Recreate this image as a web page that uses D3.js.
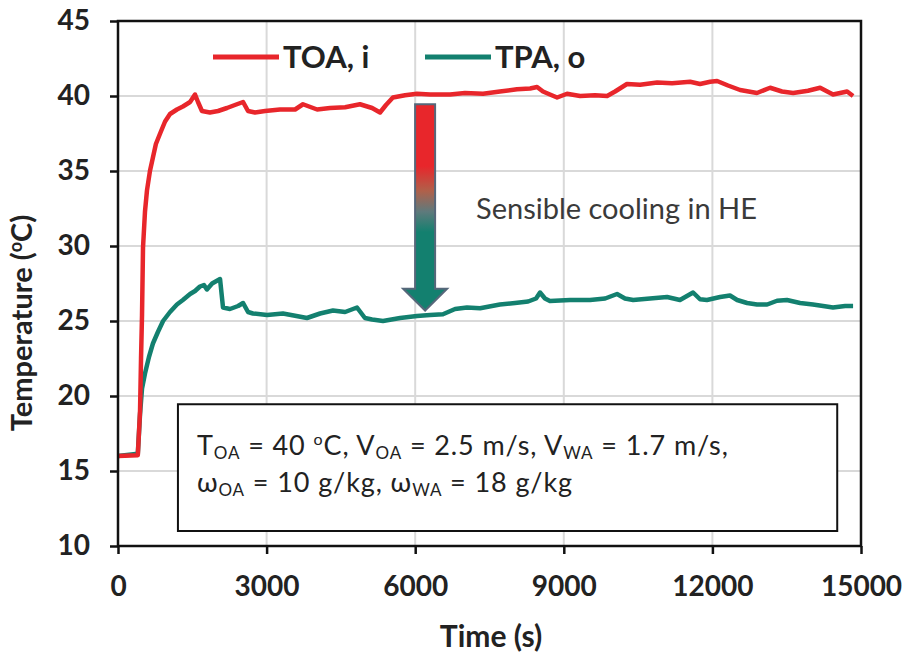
<!DOCTYPE html>
<html>
<head>
<meta charset="utf-8">
<script src="https://cdn.jsdelivr.net/npm/d3@7"></script>
<style>
  body { margin: 0; background: #fff; }
  svg { display: block; }
</style>
</head>
<body>
<div id="chart"></div>
<script>
// time (s) and temperature (oC)
var toaTime = [0, 400, 445, 465, 485, 505, 545, 585, 645, 705, 765, 850, 950, 1050, 1190, 1310, 1455, 1555, 1615, 1695, 1855, 2020, 2200, 2360, 2525, 2625, 2765, 2970, 3270, 3575, 3735, 4020, 4280, 4585, 4885, 5130, 5290, 5410, 5550, 5795, 6035, 6300, 6705, 7005, 7370, 7710, 8055, 8320, 8460, 8580, 8720, 8865, 9065, 9330, 9630, 9875, 10035, 10275, 10540, 10885, 11185, 11550, 11750, 11955, 12095, 12315, 12560, 12900, 13165, 13405, 13630, 13930, 14175, 14435, 14720, 14840];
var toaTemp = [16.0, 16.05, 19.0, 22.5, 25.4, 29.9, 32.3, 33.7, 35.0, 35.9, 36.8, 37.5, 38.3, 38.8, 39.1, 39.3, 39.6, 40.1, 39.6, 39.0, 38.9, 39.0, 39.2, 39.4, 39.6, 39.0, 38.9, 39.0, 39.1, 39.1, 39.45, 39.1, 39.2, 39.25, 39.45, 39.2, 38.9, 39.4, 39.9, 40.05, 40.15, 40.1, 40.1, 40.2, 40.15, 40.3, 40.45, 40.5, 40.6, 40.3, 40.1, 39.9, 40.15, 40.0, 40.05, 40.0, 40.3, 40.8, 40.75, 40.9, 40.85, 40.95, 40.8, 40.95, 41.0, 40.7, 40.4, 40.2, 40.55, 40.3, 40.2, 40.35, 40.55, 40.1, 40.3, 40.0];

var tpaTime = [0, 400, 445, 485, 545, 625, 705, 810, 910, 1050, 1190, 1310, 1455, 1555, 1655, 1735, 1795, 1900, 2060, 2120, 2260, 2425, 2525, 2625, 2725, 3010, 3330, 3575, 3815, 4080, 4340, 4585, 4825, 4985, 5130, 5350, 5695, 6035, 6300, 6560, 6805, 7045, 7310, 7710, 8015, 8280, 8440, 8520, 8620, 8720, 9125, 9530, 9835, 10075, 10235, 10400, 10740, 11085, 11345, 11610, 11750, 11890, 12155, 12355, 12500, 12700, 12900, 13105, 13305, 13505, 13770, 14030, 14235, 14435, 14680, 14840];
var tpaTemp = [16.0, 16.15, 18.8, 20.5, 21.5, 22.6, 23.5, 24.3, 25.0, 25.6, 26.1, 26.4, 26.8, 27.0, 27.3, 27.4, 27.1, 27.5, 27.8, 25.9, 25.8, 26.0, 26.2, 25.6, 25.5, 25.4, 25.5, 25.35, 25.2, 25.5, 25.7, 25.6, 25.9, 25.2, 25.1, 25.0, 25.2, 25.33, 25.4, 25.45, 25.8, 25.9, 25.85, 26.1, 26.2, 26.3, 26.5, 26.9, 26.5, 26.33, 26.4, 26.4, 26.5, 26.8, 26.5, 26.4, 26.5, 26.6, 26.4, 26.9, 26.45, 26.4, 26.6, 26.7, 26.4, 26.2, 26.1, 26.1, 26.35, 26.4, 26.2, 26.1, 26.0, 25.9, 26.0, 26.0];

var xTicks = [0, 3000, 6000, 9000, 12000, 15000];
var yTicks = [10, 15, 20, 25, 30, 35, 40, 45];
var seriesNames = ["TOA, i", "TPA, o"];
var seriesColors = ["#e8262b", "#13806f"];

var width = 906, height = 657;
var margin = {top: 21, right: 45, bottom: 111, left: 118};
var font = "Lato, 'Open Sans', sans-serif";

var svg = d3.select("#chart").append("svg")
  .attr("xmlns", "http://www.w3.org/2000/svg")
  .attr("width", width)
  .attr("height", height);

var x = d3.scaleLinear().domain([0, 15000]).range([margin.left, width - margin.right]);
var y = d3.scaleLinear().domain([10, 45]).range([height - margin.bottom, margin.top]);

// grid
svg.append("g").selectAll("line").data(yTicks.slice(1, -1)).enter().append("line")
  .attr("x1", x(0)).attr("x2", x(15000))
  .attr("y1", function(d) { return y(d); }).attr("y2", function(d) { return y(d); })
  .attr("stroke", "#d9d9d9").attr("stroke-width", 2);
svg.append("g").selectAll("line").data(xTicks.slice(1, -1)).enter().append("line")
  .attr("y1", y(10)).attr("y2", y(45))
  .attr("x1", function(d) { return x(d); }).attr("x2", function(d) { return x(d); })
  .attr("stroke", "#d9d9d9").attr("stroke-width", 2);

// annotation box (sits under the lines)
var box = svg.append("g");
box.append("rect")
  .attr("x", x(1210)).attr("y", y(19.45))
  .attr("width", x(14520) - x(1210)).attr("height", y(11.0) - y(19.45))
  .attr("fill", "#fff").attr("stroke", "#111").attr("stroke-width", 2);

// part kinds: 0 normal, 1 subscript, 2 superscript
var line1 = [["T", 0], ["OA", 1], [" = 40 ", 0], ["o", 2], ["C, V", 0], ["OA", 1], [" = 2.5 m/s, V", 0], ["WA", 1], [" = 1.7 m/s,", 0]];
var line2 = [["\u03c9", 0], ["OA", 1], [" = 10 g/kg, \u03c9", 0], ["WA", 1], [" = 18 g/kg", 0]];
var shift = [0, 4, -10];

function addLine(parts, ty) {
  var t = box.append("text")
    .attr("font-family", font).attr("font-size", 27).attr("fill", "#222")
    .attr("letter-spacing", 0.9)
    .attr("x", x(1210) + 19).attr("y", ty);
  parts.forEach(function(p, i) {
    var prev = i > 0 ? parts[i - 1][1] : 0;
    var dy = shift[p[1]] - shift[prev];
    var s = t.append("tspan").text(p[0]);
    if (dy) s.attr("dy", dy);
    if (p[1] === 1) s.attr("font-size", 17);
    if (p[1] === 2) s.attr("font-size", 16);
  });
}
addLine(line1, 455);
addLine(line2, 492);

// series
var line = d3.line()
  .x(function(d) { return x(d[0]); })
  .y(function(d) { return y(d[1]); });

var toa = d3.zip(toaTime, toaTemp);
var tpa = d3.zip(tpaTime, tpaTemp);

svg.append("path")
  .attr("d", line(tpa))
  .attr("fill", "none")
  .attr("stroke", seriesColors[1])
  .attr("stroke-width", 4.5)
  .attr("stroke-linejoin", "round");
svg.append("path")
  .attr("d", line(toa))
  .attr("fill", "none")
  .attr("stroke", seriesColors[0])
  .attr("stroke-width", 4.5)
  .attr("stroke-linejoin", "round");

// gradient arrow
var defs = svg.append("defs");
var grad = defs.append("linearGradient").attr("id", "arrowGrad")
  .attr("x1", 0).attr("y1", 0).attr("x2", 0).attr("y2", 1);
grad.append("stop").attr("offset", "0%").attr("stop-color", "#e8262b");
grad.append("stop").attr("offset", "30%").attr("stop-color", "#e8262b");
grad.append("stop").attr("offset", "42%").attr("stop-color", "#b0604a");
grad.append("stop").attr("offset", "52%").attr("stop-color", "#5f7a7c");
grad.append("stop").attr("offset", "62%").attr("stop-color", "#13806f");
grad.append("stop").attr("offset", "100%").attr("stop-color", "#13806f");

var ax = x(6200), half = 10, headHalf = 22;
var aTop = y(39.45), aHead = y(27.15), aTip = y(25.7);
svg.append("path")
  .attr("d", "M" + (ax - half) + "," + aTop + "H" + (ax + half) + "V" + aHead +
    "H" + (ax + headHalf) + "L" + ax + "," + aTip + "L" + (ax - headHalf) + "," + aHead +
    "H" + (ax - half) + "Z")
  .attr("fill", "url(#arrowGrad)")
  .attr("stroke", "#56677a").attr("stroke-width", 2);

svg.append("text")
  .attr("x", 476).attr("y", 219)
  .attr("font-family", font).attr("font-size", 29).attr("fill", "#3a3a3a")
  .text("Sensible cooling in HE");

// frame
svg.append("rect")
  .attr("x", x(0)).attr("y", y(45))
  .attr("width", x(15000) - x(0)).attr("height", y(10) - y(45))
  .attr("fill", "none").attr("stroke", "#111").attr("stroke-width", 2.5);

// axes
var yAxis = svg.append("g")
  .attr("transform", "translate(" + x(0) + ",0)")
  .call(d3.axisLeft(y).tickValues(yTicks).tickSize(8).tickPadding(20));
var xAxis = svg.append("g")
  .attr("transform", "translate(0," + y(10) + ")")
  .call(d3.axisBottom(x).tickValues(xTicks).tickFormat(d3.format("d")).tickSize(8).tickPadding(22));
[yAxis, xAxis].forEach(function(g) {
  g.select(".domain").remove();
  g.selectAll("line").attr("stroke", "#111").attr("stroke-width", 2.5);
  g.selectAll("text")
    .attr("font-family", font).attr("font-size", 28).attr("font-weight", "bold")
    .attr("fill", "#222");
});

// axis titles
svg.append("text")
  .attr("x", 491).attr("y", 647)
  .attr("text-anchor", "middle")
  .attr("font-family", font).attr("font-size", 30).attr("font-weight", "bold").attr("fill", "#222")
  .text("Time (s)");

var yt = svg.append("text")
  .attr("transform", "translate(32,323) rotate(-90)")
  .attr("text-anchor", "middle")
  .attr("font-family", font).attr("font-size", 29).attr("font-weight", "bold").attr("fill", "#222");
yt.append("tspan").text("Temperature (");
yt.append("tspan").text("o").attr("font-size", 18).attr("dy", -10);
yt.append("tspan").text("C)").attr("dy", 10);

// legend
var legX = [213, 425];
seriesNames.forEach(function(name, i) {
  var g = svg.append("g").attr("transform", "translate(" + legX[i] + ",57)");
  g.append("line").attr("x1", 0).attr("x2", 66)
    .attr("stroke", seriesColors[i]).attr("stroke-width", 5);
  g.append("text").attr("x", 70).attr("y", 11)
    .attr("font-family", font).attr("font-size", 31).attr("font-weight", "bold").attr("fill", "#222")
    .text(name);
});
</script>
</body>
</html>
